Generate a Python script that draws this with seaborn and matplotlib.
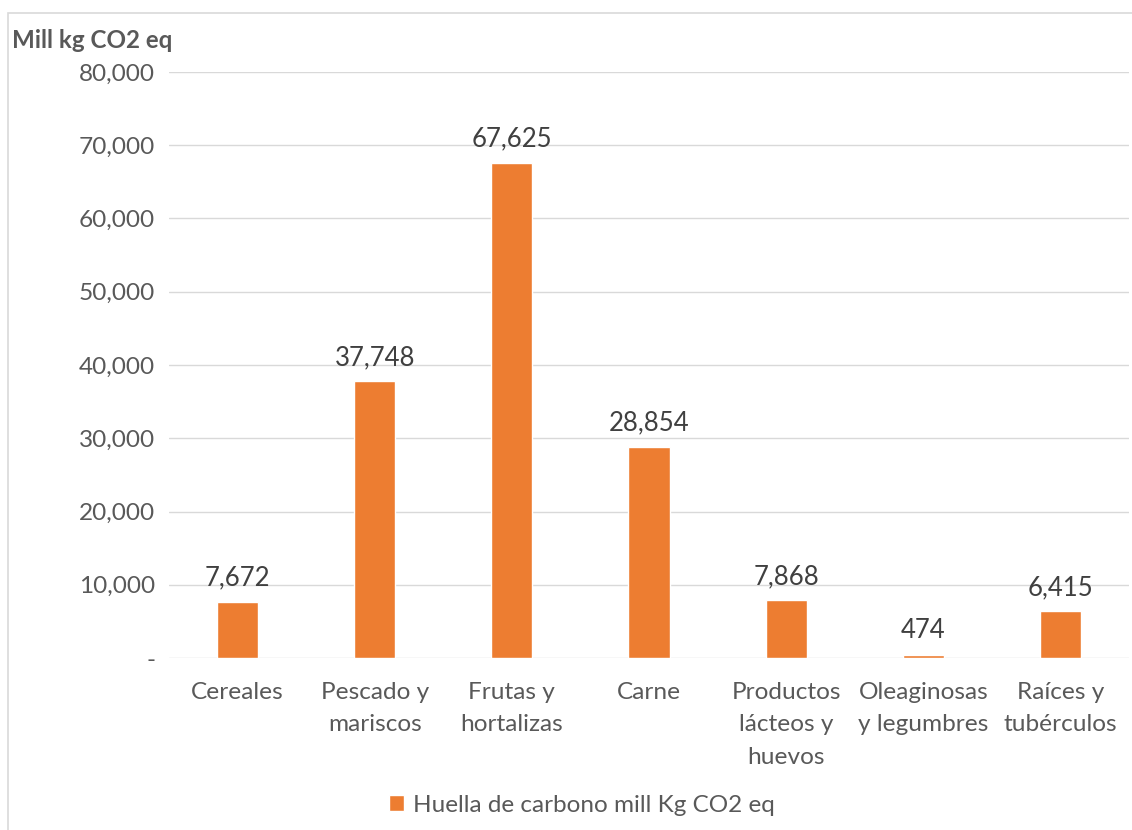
import matplotlib
matplotlib.use("Agg")
import matplotlib.pyplot as plt
from matplotlib.patches import Rectangle
from matplotlib.ticker import FuncFormatter
import seaborn as sns
import pandas as pd

categories = ["Cereales", "Pescado y\nmariscos", "Frutas y\nhortalizas", "Carne",
              "Productos\nlácteos y\nhuevos", "Oleaginosas\ny legumbres", "Raíces y\ntubérculos"]
values = [7672, 37748, 67625, 28854, 7868, 474, 6415]
series_name = "Huella de carbono mill Kg CO2 eq"
axis_title = "Mill kg CO2 eq"
y_ticks = [0, 10000, 20000, 30000, 40000, 50000, 60000, 70000, 80000]

df = pd.DataFrame({"categoria": categories, "valor": values})

sns.set_theme(style="white")
plt.rcParams["font.family"] = ["Lato", "DejaVu Sans"]

text_color = "#595959"
bar_color = "#ED7D31"

fig = plt.figure(figsize=(11.32, 8.30), dpi=100)
ax = fig.add_axes([169 / 1132, 1 - 658 / 830, (1129 - 169) / 1132, (658 - 72) / 830])

sns.barplot(data=df, x="categoria", y="valor", color=bar_color, width=0.3,
            saturation=1, label=series_name, ax=ax, zorder=3)

ax.set_ylim(0, 80000)
ax.set_yticks(y_ticks)
ax.yaxis.set_major_formatter(FuncFormatter(lambda v, p: "-" if v == 0 else f"{int(v):,}"))
ax.grid(axis="y", color="#D9D9D9", linewidth=1, zorder=0)
for s in ax.spines.values():
    s.set_visible(False)
ax.set_xlabel("")
ax.set_ylabel("")
ax.tick_params(axis="y", length=0, pad=10, labelsize=17.6, labelcolor=text_color)
ax.tick_params(axis="x", length=0, pad=17, labelsize=17.6, labelcolor=text_color)
for lab in ax.get_xticklabels():
    lab.set_linespacing(1.68)

for container in ax.containers:
    ax.bar_label(container, labels=[f"{v:,}" for v in values], padding=8,
                 fontsize=18.5, color="#404040")

fig.text(12 / 1132, 1 - 40 / 830, axis_title, fontsize=17.4, fontweight="bold",
         color=text_color, ha="left", va="center")

leg = ax.legend(loc="center", bbox_to_anchor=(582 / 1132, 1 - 805 / 830),
                bbox_transform=fig.transFigure, frameon=False, fontsize=17.5,
                handlelength=0.6, handleheight=0.6, handletextpad=0.4)
for t in leg.get_texts():
    t.set_color(text_color)

fig.patches.append(Rectangle((8 / 1132, -0.01), 1.02, 1 - 13 / 830 + 0.01,
                             transform=fig.transFigure, fill=False,
                             edgecolor="#D9D9D9", linewidth=1.2))

fig.savefig("out.png", dpi=100, facecolor="white")
